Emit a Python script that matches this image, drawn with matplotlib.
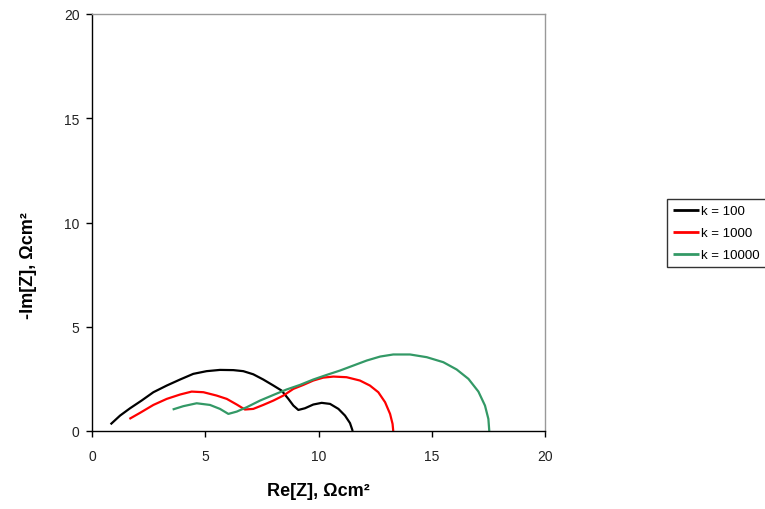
import matplotlib
matplotlib.use("Agg")
import matplotlib.pyplot as plt

plt.rcParams['font.family'] = ['Liberation Sans', 'DejaVu Sans']

labels = ["k = 100", "k = 1000", "k = 10000"]
colors = ["#000000", "#FF0000", "#339966"]

re_k100 = [0.82, 1.24, 1.68, 2.19, 2.71, 3.30, 3.89, 4.47, 5.06, 5.65, 6.24, 6.68, 7.12, 7.56,
           8.01, 8.37, 8.67, 8.89, 9.11, 9.40, 9.77, 10.14, 10.51, 10.88, 11.17, 11.39, 11.51]
im_k100 = [0.32, 0.74, 1.09, 1.46, 1.86, 2.18, 2.47, 2.74, 2.87, 2.93, 2.92, 2.87, 2.72, 2.47,
           2.18, 1.94, 1.54, 1.22, 1.01, 1.09, 1.27, 1.35, 1.30, 1.06, 0.74, 0.38, 0.0]

re_k1000 = [1.65, 2.12, 2.71, 3.30, 3.89, 4.40, 4.92, 5.50, 5.95, 6.39, 6.75, 7.12, 7.56, 8.01,
            8.45, 8.89, 9.33, 9.77, 10.21, 10.66, 11.24, 11.83, 12.27, 12.64, 12.94, 13.16, 13.27, 13.30]
im_k1000 = [0.58, 0.87, 1.25, 1.54, 1.75, 1.89, 1.86, 1.70, 1.54, 1.27, 1.03, 1.06, 1.25, 1.46,
            1.70, 2.02, 2.21, 2.42, 2.56, 2.61, 2.58, 2.42, 2.18, 1.86, 1.38, 0.82, 0.34, 0.0]

re_k10000 = [3.56, 4.03, 4.62, 5.21, 5.65, 6.02, 6.39, 6.83, 7.42, 8.01, 8.59, 9.18, 9.77, 10.36,
             10.95, 11.54, 12.13, 12.72, 13.30, 14.04, 14.78, 15.51, 16.10, 16.62, 17.06, 17.35, 17.50, 17.54]
im_k10000 = [1.03, 1.19, 1.33, 1.25, 1.06, 0.82, 0.93, 1.14, 1.46, 1.73, 1.99, 2.21, 2.47, 2.69,
             2.90, 3.14, 3.38, 3.57, 3.67, 3.67, 3.54, 3.30, 2.95, 2.50, 1.89, 1.22, 0.58, 0.0]

xticks = [0, 5, 10, 15, 20]
yticks = [0, 5, 10, 15, 20]

fig = plt.figure(figsize=(7.65, 5.1), dpi=100)
ax = fig.add_axes([92/765, 78/510, 453/765, 417/510])

series = [(re_k100, im_k100), (re_k1000, im_k1000), (re_k10000, im_k10000)]
for (xs, ys), c, lab in zip(series, colors, labels):
    ax.plot(xs, ys, color=c, lw=1.6, label=lab, solid_capstyle='butt')

ax.set_xlim(0, 20)
ax.set_ylim(0, 20)
ax.set_xticks(xticks)
ax.set_yticks(yticks)
ax.tick_params(direction='out', length=4, width=1, labelsize=10, colors='#000000')
ax.tick_params(axis='both', labelcolor='#222222')
ax.tick_params(axis='x', pad=9)
ax.tick_params(axis='y', pad=5)

for s in ['left', 'bottom']:
    ax.spines[s].set_color('#000000')
    ax.spines[s].set_linewidth(1.0)
for s in ['top', 'right']:
    ax.spines[s].set_color('#999999')
    ax.spines[s].set_linewidth(1.0)

ax.set_xlabel("Re[Z], Ωcm²", fontsize=13, fontweight='bold')
ax.set_ylabel("-Im[Z], Ωcm²", fontsize=13, fontweight='bold')
ax.xaxis.set_label_coords(0.5, -0.122)
ax.yaxis.set_label_coords(-0.121, 0.40)

leg = fig.legend(loc='upper left', bbox_to_anchor=(667/765, 310/510), fontsize=9.5,
                 frameon=True, fancybox=False, shadow=False, handlelength=2.0,
                 handletextpad=0.15, labelspacing=0.75, borderpad=0.45, borderaxespad=0)
leg.get_frame().set_edgecolor('#000000')
leg.get_frame().set_linewidth(1.0)
for line in leg.get_lines():
    line.set_linewidth(2.0)

fig.savefig("out.png", dpi=100)
